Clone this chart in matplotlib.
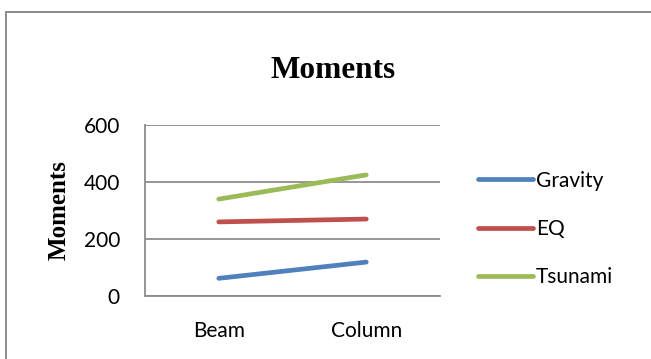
import matplotlib.pyplot as plt
from matplotlib.lines import Line2D

categories = ["Beam", "Column"]
gravity = [62, 119]
eq = [260, 270]
tsunami = [340, 425]
series_names = ["Gravity", "EQ", "Tsunami"]
y_ticks = [0, 200, 400, 600]

COLORS = ["#4F81BD", "#C0504D", "#9BBB59"]
GRID = "#8c8c8c"
W, H = 651, 359

fig = plt.figure(figsize=(W / 100, H / 100), dpi=100)
fig.patch.set_facecolor("white")

# chart area frame (only top and left edges fall inside the image)
fig.add_artist(Line2D([6 / W, 6 / W], [0, 1 - 12 / H], color=GRID, lw=1.4, transform=fig.transFigure))
fig.add_artist(Line2D([6 / W, 1], [1 - 12 / H, 1 - 12 / H], color=GRID, lw=1.4, transform=fig.transFigure))

ax = fig.add_axes([145 / W, 1 - 296 / H, 295 / W, 171 / H])
x = range(len(categories))
for values, name, color in zip([gravity, eq, tsunami], series_names, COLORS):
    ax.plot(x, values, color=color, lw=3.4, solid_capstyle="round", label=name)

ax.set_xlim(-0.5, 1.5)
ax.set_ylim(0, 600)
ax.set_yticks(y_ticks)
ax.set_xticks(list(x))
ax.set_xticklabels(categories)
ax.yaxis.grid(True, color=GRID, lw=1.3)
ax.set_axisbelow(True)
for side in ["top", "right"]:
    ax.spines[side].set_visible(False)
for side in ["left", "bottom"]:
    ax.spines[side].set_color(GRID)
    ax.spines[side].set_linewidth(1.3)
ax.tick_params(length=0, labelsize=15, pad=18)
for lab in ax.get_xticklabels() + ax.get_yticklabels():
    lab.set_fontfamily("Lato")

ax.set_ylabel("Moments", fontsize=18, fontweight="bold", family="Liberation Serif", labelpad=9)
fig.text(333 / W, 1 - 70 / H, "Moments", fontsize=22.5, fontweight="bold",
         family="Liberation Serif", ha="center", va="center")

leg = ax.legend(loc="center left", bbox_to_anchor=(1.065, 0.392), frameon=False,
                prop={"family": "Lato", "size": 15}, handlelength=2.65,
                handletextpad=0.12, labelspacing=1.36)

fig.savefig("out.png", dpi=100, facecolor="white")
